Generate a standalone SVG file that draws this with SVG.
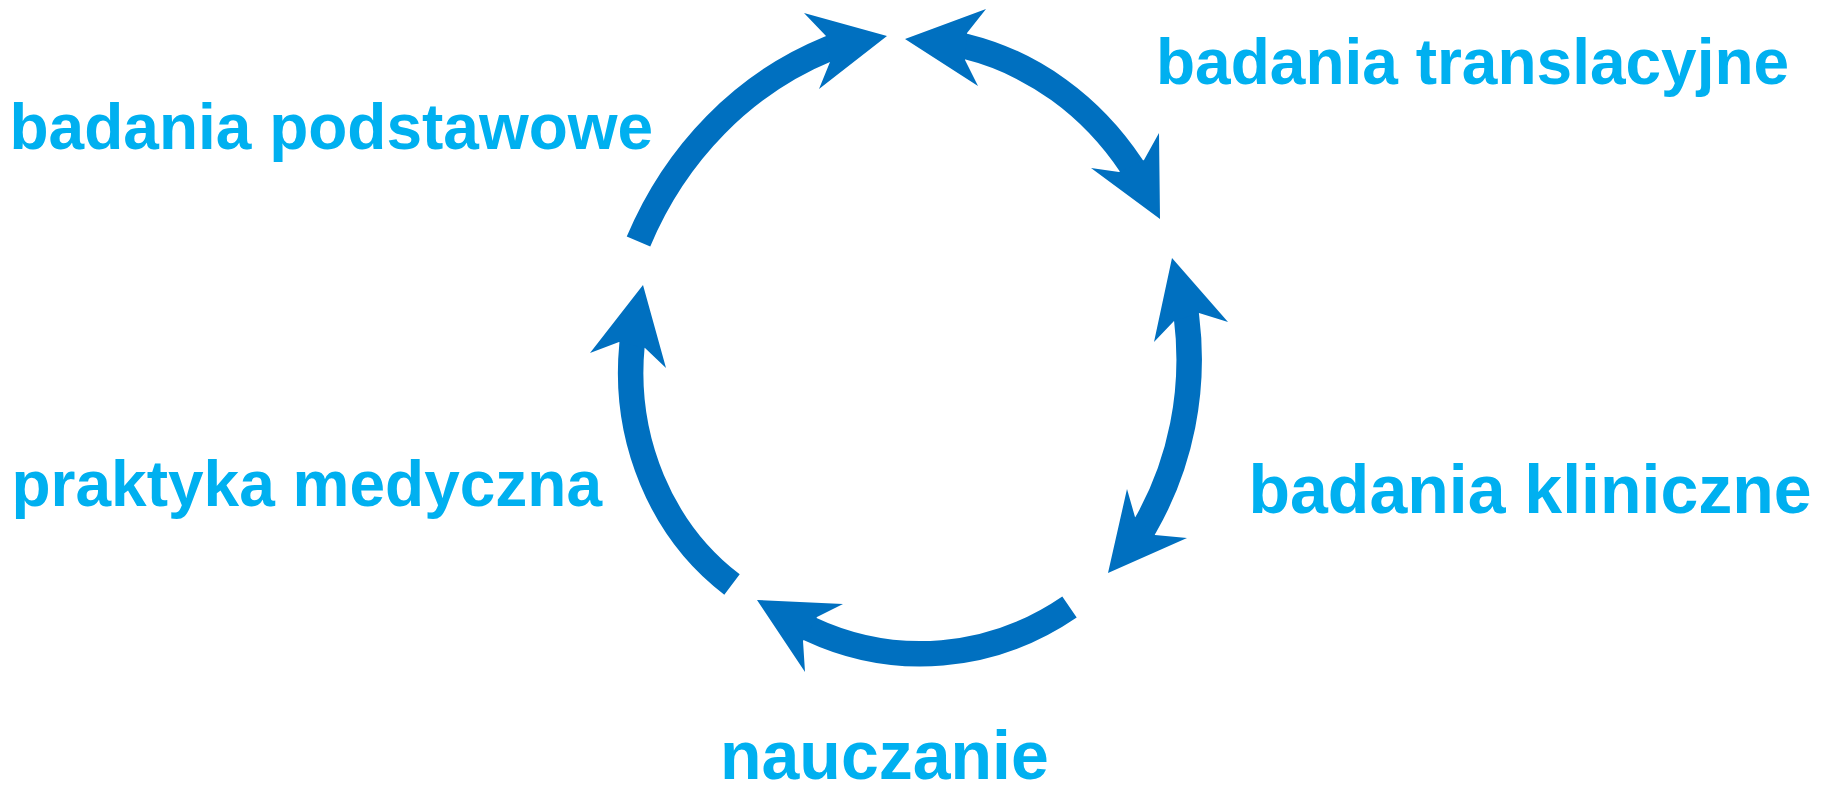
<svg xmlns="http://www.w3.org/2000/svg" width="1838" height="795" viewBox="0 0 1838 795">
  <style>
    .lbl { font-family: "Liberation Sans", Arial, sans-serif; font-weight: bold; fill: #00B0F0; }
    .shaft { fill: none; stroke: #0070C0; stroke-width: 25.5; stroke-linecap: butt; stroke-linejoin: miter; }
    .head { fill: #0070C0; stroke: none; }
  </style>
  <rect x="0" y="0" width="1838" height="795" fill="#FFFFFF"/>

  <g id="node-badania-podstawowe">
    <text class="lbl" x="9.5" y="149" font-size="64">badania podstawowe</text>
  </g>
  <g id="node-badania-translacyjne">
    <text class="lbl" x="1156" y="83.5" font-size="64">badania translacyjne</text>
  </g>
  <g id="node-badania-kliniczne">
    <text class="lbl" x="1248.5" y="513" font-size="68">badania kliniczne</text>
  </g>
  <g id="node-nauczanie">
    <text class="lbl" x="720" y="779" font-size="68">nauczanie</text>
  </g>
  <g id="node-praktyka-medyczna">
    <text class="lbl" x="11.5" y="506" font-size="64">praktyka medyczna</text>
  </g>

  <g id="connectors">
    <!-- A: badania podstawowe -> top -->
    <path class="shaft" d="M638.5,241.5 A340,370 0 0 1 828,49 l5.5,-2.3"/>
    <polygon class="head" points="826,36 804,13 887,36 819,89 830,62"/>

    <!-- B: double-headed, top-right -->
    <path class="shaft" d="M960.2,45.05 L966,46.5 A282,310 0 0 1 1131.5,166 l3.3,5"/>
    <polygon class="head" points="967,33 986,9 905,39 978,86 965,60"/>
    <polygon class="head" points="1144,160 1159,133 1160,219 1091,168 1119,172"/>

    <!-- C: double-headed, right -->
    <path class="shaft" d="M1185.8,311 L1186.5,317 A282,310 0 0 1 1145,526 l-3,5.2"/>
    <polygon class="head" points="1174,321 1154,342 1172,258 1228,322 1199,313"/>
    <polygon class="head" points="1135,517 1127,489 1108,573 1187,538 1155,535"/>

    <!-- D: bottom arc -> left -->
    <path class="shaft" d="M1069.5,607 A282,310 0 0 1 810,629 l-5.4,-2.5"/>
    <polygon class="head" points="817,617 843,604 757,600 805,672 803,641"/>

    <!-- E: left arc -> up -->
    <path class="shaft" d="M732,584.5 A235,258 0 0 1 632,345 l0.6,-6"/>
    <polygon class="head" points="619,342 590,353 643,285 666,368 645,348"/>
  </g>
</svg>
